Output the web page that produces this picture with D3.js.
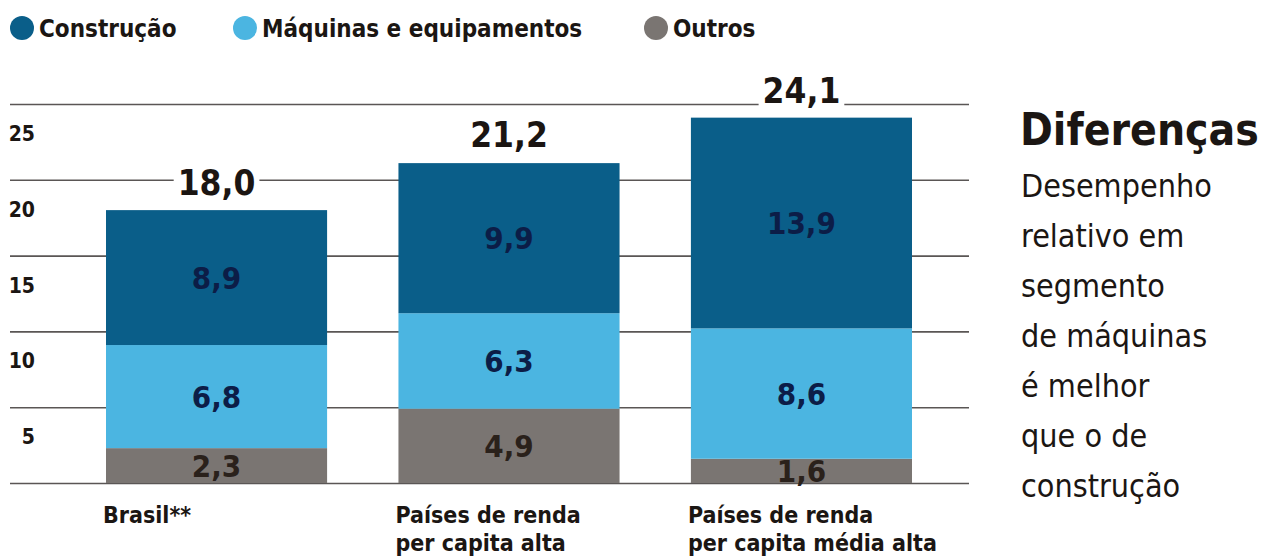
<!DOCTYPE html>
<html>
<head>
<meta charset="utf-8">
<script src="https://cdn.jsdelivr.net/npm/d3@7"></script>
<style>
  body { margin: 0; background: #fff; }
  svg { display: block; font-family: "DejaVu Sans Condensed", "Liberation Sans Narrow", "DejaVu Sans", sans-serif; }
</style>
</head>
<body>
<div id="chart"></div>
<script>
// data
var categories = ["Brasil**", "Países de renda per capita alta", "Países de renda per capita média alta"];
var categoryLines = [["Brasil**"], ["Países de renda", "per capita alta"], ["Países de renda", "per capita média alta"]];
var seriesNames = ["Construção", "Máquinas e equipamentos", "Outros"];
var construcao = [8.9, 9.9, 13.9];
var maquinas = [6.8, 6.3, 8.6];
var outros = [2.3, 4.9, 1.6];
var totals = [18.0, 21.2, 24.1];
var yTicks = [0, 5, 10, 15, 20, 25];
var sideTitle = "Diferenças";
var sideLines = ["Desempenho", "relativo em", "segmento", "de máquinas", "é melhor", "que o de", "construção"];

var svgWidth = 1264;
var svgHeight = 560;

var colors = {
  construcao: "#0a5e89",
  maquinas: "#4bb5e1",
  outros: "#7a7572"
};
var labelColors = {
  construcao: "#0c1d47",
  maquinas: "#0c1d47",
  outros: "#2a211b"
};

var fmt = function(v) { return d3.format(".1f")(v).replace(".", ","); };

var svg = d3.select("#chart")
  .append("svg")
  .attr("width", svgWidth)
  .attr("height", svgHeight);

// scales
var x = d3.scaleBand()
  .domain(categories)
  .range([106, 912])
  .paddingInner(0.244);

var y = d3.scaleLinear()
  .domain([0, 25])
  .range([483, 104]);

// gridlines
var grid = svg.append("g")
  .attr("transform", "translate(10,0)")
  .call(d3.axisRight(y).tickValues(yTicks).tickSize(959).tickFormat(""));
grid.select(".domain").remove();
grid.selectAll(".tick line")
  .attr("stroke", "#5a5655")
  .attr("stroke-width", 1.6);

// tick labels sit under their line
svg.append("g")
  .selectAll("text")
  .data(yTicks.filter(function(d) { return d > 0; }))
  .enter()
  .append("text")
  .attr("x", 35)
  .attr("y", function(d) { return y(d) + 37; })
  .attr("text-anchor", "end")
  .attr("font-size", 21)
  .attr("font-weight", "bold")
  .attr("fill", "#1b1613")
  .text(function(d) { return d; });

// stacked bars
var rows = categories.map(function(c, i) {
  return { cat: c, outros: outros[i], maquinas: maquinas[i], construcao: construcao[i] };
});
var keys = ["outros", "maquinas", "construcao"];
var stacked = d3.stack().keys(keys)(rows);

var layers = svg.append("g")
  .selectAll("g")
  .data(stacked)
  .enter()
  .append("g")
  .attr("fill", function(d) { return colors[d.key]; });

layers.selectAll("rect")
  .data(function(d) { return d; })
  .enter()
  .append("rect")
  .attr("x", function(d) { return x(d.data.cat); })
  .attr("width", x.bandwidth())
  .attr("y", function(d) { return y(d[1]); })
  .attr("height", function(d) { return y(d[0]) - y(d[1]); });

// values inside the segments
stacked.forEach(function(layer) {
  svg.append("g")
    .selectAll("text")
    .data(layer)
    .enter()
    .append("text")
    .attr("x", function(d) { return x(d.data.cat) + x.bandwidth() / 2; })
    .attr("y", function(d) { return (y(d[0]) + y(d[1])) / 2 + 11; })
    .attr("text-anchor", "middle")
    .attr("font-size", 31)
    .attr("font-weight", "bold")
    .attr("fill", labelColors[layer.key])
    .text(function(d) { return fmt(d.data[layer.key]); });
});

// totals above the bars, breaking the gridlines
var totalG = svg.append("g")
  .selectAll("g")
  .data(categories)
  .enter()
  .append("g")
  .attr("transform", function(d, i) {
    return "translate(" + (x(d) + x.bandwidth() / 2) + "," + (y(totals[i]) - 15) + ")";
  });

totalG.append("text")
  .attr("text-anchor", "middle")
  .attr("font-size", 35)
  .attr("font-weight", "bold")
  .attr("fill", "#1b1512")
  .text(function(d, i) { return fmt(totals[i]); });

totalG.each(function() {
  var g = d3.select(this);
  var bb = g.select("text").node().getBBox();
  g.insert("rect", "text")
    .attr("x", bb.x - 4)
    .attr("y", bb.y)
    .attr("width", bb.width + 8)
    .attr("height", bb.height)
    .attr("fill", "#fff");
});

// category labels
var catG = svg.append("g")
  .selectAll("text")
  .data(categories)
  .enter()
  .append("text")
  .attr("x", function(d) { return x(d) - 3; })
  .attr("y", 523)
  .attr("font-size", 23)
  .attr("font-weight", "bold")
  .attr("fill", "#1b1613");

catG.selectAll("tspan")
  .data(function(d, i) { return categoryLines[i]; })
  .enter()
  .append("tspan")
  .attr("x", function() { return x(d3.select(this.parentNode).datum()) - 3; })
  .attr("dy", function(d, i) { return i === 0 ? 0 : 28; })
  .text(function(d) { return d; });

// legend
var legendX = [22, 245, 656];
var legendKeys = ["construcao", "maquinas", "outros"];
var legend = svg.append("g")
  .selectAll("g")
  .data(seriesNames)
  .enter()
  .append("g")
  .attr("transform", function(d, i) { return "translate(" + legendX[i] + ",28)"; });

legend.append("circle")
  .attr("r", 12)
  .attr("fill", function(d, i) { return colors[legendKeys[i]]; });

legend.append("text")
  .attr("x", 17)
  .attr("y", 9)
  .attr("font-size", 24)
  .attr("font-weight", "bold")
  .attr("fill", "#1b1613")
  .text(function(d) { return d; });

// side note
svg.append("text")
  .attr("x", 1020)
  .attr("y", 145)
  .attr("font-size", 44)
  .attr("font-weight", "bold")
  .attr("fill", "#1b1613")
  .text(sideTitle);

svg.append("g")
  .selectAll("text")
  .data(sideLines)
  .enter()
  .append("text")
  .attr("x", 1021)
  .attr("y", function(d, i) { return 197 + i * 50; })
  .attr("font-size", 32)
  .attr("fill", "#1b1613")
  .text(function(d) { return d; });
</script>
</body>
</html>
